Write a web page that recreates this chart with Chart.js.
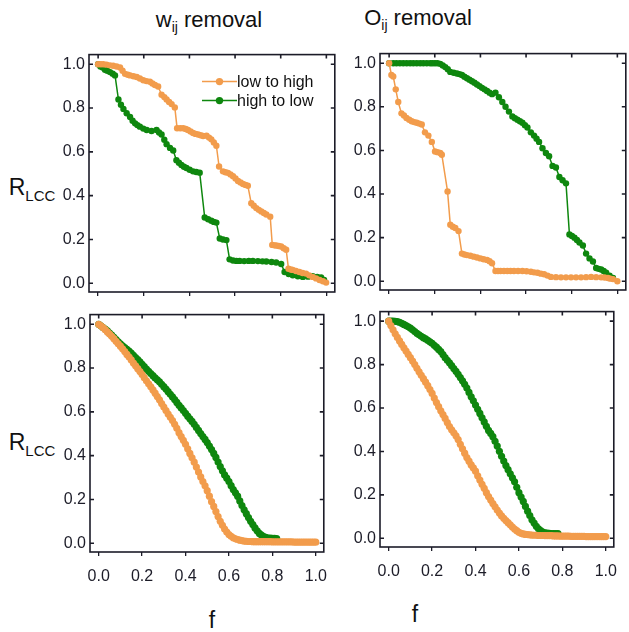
<!DOCTYPE html>
<html>
<head>
<meta charset="utf-8">
<script src="https://cdn.jsdelivr.net/npm/chart.js@4.4.1/dist/chart.umd.min.js"></script>
<style>
  html, body { margin: 0; padding: 0; background: #fff; }
  #fig { position: relative; width: 629px; height: 632px; background: #fff; overflow: hidden;
         font-family: "Liberation Sans", Arial, sans-serif; color: #111; }
  #fig canvas { position: absolute; }
  .lbl { position: absolute; white-space: nowrap; line-height: 1; transform: translate(-50%, -50%); }
  .ttl { font-size: 22px; }
  .ttl sub { font-size: 14px; vertical-align: -5px; }
  .ylab { font-size: 23px; }
  .ylab sub { font-size: 15px; vertical-align: -6px; }
  .xlab { font-size: 23px; }
</style>
</head>
<body>
<div id="fig">
  <div class="lbl ttl" style="left:209px; top:21px;">w<sub>ij</sub> removal</div>
  <div class="lbl ttl" style="left:418px; top:19px;">O<sub>ij</sub> removal</div>
  <div class="lbl ylab" style="left:32px; top:189px;">R<sub>LCC</sub></div>
  <div class="lbl ylab" style="left:32px; top:444px;">R<sub>LCC</sub></div>
  <div class="lbl xlab" style="left:212px; top:620px;">f</div>
  <div class="lbl xlab" style="left:415px; top:614px;">f</div>
</div>
<script>
// Tick values shared by every panel
const fTicks = [0.0, 0.2, 0.4, 0.6, 0.8, 1.0];
const rTicks = [0.0, 0.2, 0.4, 0.6, 0.8, 1.0];
const seriesNames = ['low to high', 'high to low'];

// Removed fraction f used by the ensemble curves (bottom row)
const fGrid = [
  0.00, 0.01, 0.02, 0.03, 0.04, 0.05, 0.06, 0.07, 0.08, 0.09,
  0.10, 0.11, 0.12, 0.13, 0.14, 0.15, 0.16, 0.17, 0.18, 0.19,
  0.20, 0.21, 0.22, 0.23, 0.24, 0.25, 0.26, 0.27, 0.28, 0.29,
  0.30, 0.31, 0.32, 0.33, 0.34, 0.35, 0.36, 0.37, 0.38, 0.39,
  0.40, 0.41, 0.42, 0.43, 0.44, 0.45, 0.46, 0.47, 0.48, 0.49,
  0.50, 0.51, 0.52, 0.53, 0.54, 0.55, 0.56, 0.57, 0.58, 0.59,
  0.60, 0.61, 0.62, 0.63, 0.64, 0.65, 0.66, 0.67, 0.68, 0.69,
  0.70, 0.71, 0.72, 0.73, 0.74, 0.75, 0.76, 0.77, 0.78, 0.79,
  0.80, 0.81, 0.82, 0.83, 0.84, 0.85, 0.86, 0.87, 0.88, 0.89,
  0.90, 0.91, 0.92, 0.93, 0.94, 0.95, 0.96, 0.97, 0.98, 0.99,
  1.00
];

// w_ij removal, single network: [f, R_LCC]
const wTopLowHigh = [
  [0,1.0],[0.012,1.0],[0.023,1.0],[0.037,0.998],[0.052,0.995],[0.066,0.993],[0.081,0.99],[0.096,0.985],
  [0.107,0.97],[0.118,0.956],[0.13,0.952],[0.14,0.949],[0.155,0.945],[0.169,0.942],[0.183,0.935],
  [0.198,0.927],[0.212,0.923],[0.227,0.92],[0.238,0.912],[0.249,0.905],[0.263,0.898],[0.278,0.861],
  [0.29,0.85],[0.30,0.839],[0.311,0.828],[0.322,0.818],[0.336,0.803],[0.346,0.708],[0.36,0.708],
  [0.373,0.708],[0.384,0.704],[0.394,0.70],[0.405,0.693],[0.416,0.686],[0.427,0.682],[0.438,0.679],
  [0.449,0.676],[0.46,0.672],[0.475,0.674],[0.486,0.665],[0.496,0.657],[0.507,0.643],[0.518,0.628],
  [0.53,0.533],[0.547,0.511],[0.558,0.507],[0.569,0.504],[0.58,0.497],[0.591,0.489],[0.602,0.478],
  [0.613,0.467],[0.624,0.46],[0.635,0.453],[0.646,0.449],[0.656,0.445],[0.671,0.365],[0.682,0.354],
  [0.693,0.343],[0.704,0.335],[0.715,0.328],[0.726,0.321],[0.737,0.314],[0.754,0.304],[0.763,0.175],
  [0.772,0.173],[0.78,0.172],[0.791,0.17],[0.802,0.168],[0.813,0.16],[0.824,0.153],[0.834,0.066],
  [0.844,0.063],[0.853,0.061],[0.867,0.056],[0.882,0.051],[0.896,0.047],[0.911,0.044],[0.925,0.036],
  [0.94,0.029],[0.955,0.022],[0.97,0.015],[0.985,0.009],[0.999,0.003]
];
const wTopHighLow = [
  [0,1.0],[0.01,0.99],[0.02,0.985],[0.03,0.975],[0.04,0.97],[0.052,0.964],[0.064,0.957],[0.074,0.949],
  [0.089,0.839],[0.1,0.815],[0.111,0.796],[0.125,0.776],[0.14,0.759],[0.151,0.742],[0.162,0.73],
  [0.172,0.722],[0.183,0.715],[0.198,0.706],[0.213,0.70],[0.234,0.695],[0.256,0.70],[0.267,0.688],
  [0.278,0.679],[0.29,0.655],[0.30,0.635],[0.315,0.618],[0.329,0.606],[0.343,0.562],[0.354,0.55],
  [0.365,0.54],[0.376,0.532],[0.387,0.526],[0.401,0.518],[0.416,0.511],[0.43,0.508],[0.445,0.505],
  [0.467,0.30],[0.482,0.292],[0.496,0.285],[0.507,0.28],[0.518,0.277],[0.533,0.204],[0.547,0.2],
  [0.562,0.197],[0.576,0.109],[0.591,0.104],[0.606,0.102],[0.62,0.102],[0.64,0.101],[0.66,0.102],
  [0.678,0.102],[0.70,0.101],[0.72,0.10],[0.737,0.099],[0.76,0.097],[0.78,0.095],[0.802,0.088],
  [0.817,0.051],[0.835,0.042],[0.853,0.036],[0.875,0.032],[0.897,0.029],[0.92,0.03],[0.94,0.032],
  [0.96,0.029],[0.977,0.026],[0.99,0.015]
];

// O_ij removal, single network: [f, R_LCC]
const oTopLowHigh = [
  [0,1.0],[0.01,0.946],[0.018,0.939],[0.029,0.88],[0.04,0.822],[0.054,0.77],[0.065,0.76],[0.076,0.749],
  [0.088,0.741],[0.099,0.734],[0.11,0.73],[0.121,0.727],[0.132,0.723],[0.143,0.719],[0.157,0.683],
  [0.172,0.668],[0.187,0.639],[0.201,0.595],[0.212,0.592],[0.224,0.588],[0.231,0.58],[0.256,0.412],
  [0.268,0.259],[0.279,0.25],[0.29,0.244],[0.304,0.23],[0.319,0.127],[0.33,0.123],[0.341,0.12],
  [0.356,0.117],[0.371,0.113],[0.385,0.109],[0.40,0.105],[0.414,0.101],[0.429,0.098],[0.44,0.092],
  [0.451,0.083],[0.466,0.047],[0.477,0.047],[0.488,0.047],[0.503,0.047],[0.518,0.047],[0.532,0.047],
  [0.547,0.047],[0.565,0.047],[0.584,0.047],[0.602,0.046],[0.621,0.044],[0.635,0.041],[0.65,0.039],
  [0.665,0.035],[0.679,0.032],[0.694,0.026],[0.709,0.02],[0.731,0.019],[0.753,0.018],[0.775,0.018],
  [0.797,0.018],[0.819,0.018],[0.841,0.018],[0.863,0.019],[0.885,0.02],[0.907,0.019],[0.929,0.018],
  [0.944,0.017],[0.959,0.015],[0.97,0.012],[0.981,0.01],[1.0,0.0]
];
const oTopHighLow = [
  [0,1.0],[0.018,1.0],[0.032,1.0],[0.047,1.0],[0.062,1.0],[0.077,1.0],[0.092,1.0],[0.106,1.0],
  [0.121,1.0],[0.136,1.0],[0.15,1.0],[0.165,1.0],[0.18,1.0],[0.19,1.0],[0.201,1.0],[0.212,1.0],
  [0.224,0.997],[0.235,0.99],[0.246,0.982],[0.257,0.972],[0.268,0.96],[0.283,0.956],[0.297,0.953],
  [0.308,0.95],[0.319,0.946],[0.33,0.938],[0.341,0.931],[0.352,0.924],[0.363,0.917],[0.374,0.91],
  [0.385,0.902],[0.396,0.895],[0.407,0.887],[0.418,0.88],[0.429,0.873],[0.44,0.865],[0.451,0.858],
  [0.466,0.865],[0.481,0.844],[0.496,0.822],[0.51,0.80],[0.525,0.778],[0.54,0.756],[0.551,0.748],
  [0.562,0.741],[0.573,0.734],[0.584,0.727],[0.595,0.716],[0.606,0.705],[0.621,0.683],[0.635,0.668],
  [0.646,0.654],[0.657,0.639],[0.672,0.61],[0.687,0.588],[0.701,0.573],[0.716,0.529],[0.731,0.522],
  [0.746,0.478],[0.76,0.463],[0.775,0.449],[0.79,0.215],[0.801,0.208],[0.812,0.20],[0.823,0.189],
  [0.834,0.178],[0.849,0.164],[0.863,0.127],[0.878,0.105],[0.893,0.091],[0.907,0.061],[0.918,0.057],
  [0.929,0.054],[0.94,0.047],[0.951,0.039],[0.966,0.025],[0.981,0.015]
];

// w_ij removal, ensemble: R_LCC at each fGrid value
const wBotLowHigh = [
  1.000, 0.993, 0.985, 0.975, 0.965, 0.955, 0.945, 0.934, 0.922, 0.911,
  0.900, 0.888, 0.875, 0.862, 0.850, 0.837, 0.823, 0.810, 0.797, 0.784,
  0.770, 0.756, 0.742, 0.728, 0.714, 0.700, 0.685, 0.670, 0.655, 0.638,
  0.622, 0.606, 0.590, 0.575, 0.560, 0.543, 0.525, 0.505, 0.487, 0.470,
  0.452, 0.431, 0.410, 0.390, 0.370, 0.348, 0.325, 0.303, 0.282, 0.262,
  0.240, 0.215, 0.190, 0.168, 0.145, 0.122, 0.100, 0.082, 0.065, 0.051,
  0.040, 0.032, 0.025, 0.020, 0.017, 0.014, 0.012, 0.010, 0.009, 0.008,
  0.008, 0.007, 0.007, 0.007, 0.007, 0.007, 0.007, 0.007, 0.007, 0.007,
  0.006, 0.006, 0.006, 0.006, 0.006, 0.006, 0.006, 0.006, 0.006, 0.006,
  0.005, 0.005, 0.005, 0.005, 0.005, 0.005, 0.005, 0.005, 0.005, 0.005,
  0.005
];
const wBotHighLow = [
  1.000, 0.993, 0.985, 0.978, 0.970, 0.960, 0.950, 0.940, 0.930, 0.920,
  0.910, 0.901, 0.893, 0.885, 0.877, 0.868, 0.858, 0.848, 0.838, 0.828,
  0.817, 0.806, 0.795, 0.785, 0.775, 0.765, 0.755, 0.746, 0.737, 0.726,
  0.715, 0.704, 0.692, 0.680, 0.668, 0.656, 0.643, 0.630, 0.618, 0.606,
  0.593, 0.580, 0.568, 0.556, 0.543, 0.529, 0.515, 0.501, 0.487, 0.474,
  0.460, 0.444, 0.428, 0.410, 0.392, 0.371, 0.350, 0.331, 0.312, 0.297,
  0.282, 0.263, 0.245, 0.230, 0.215, 0.193, 0.172, 0.153, 0.135, 0.117,
  0.100, 0.085, 0.070, 0.057, 0.045, 0.037, 0.030, 0.027, 0.024, 0.023,
  0.022, 0.022, 0.021
];

// O_ij removal, ensemble: R_LCC at each fGrid value
const oBotLowHigh = [
  1.000, 0.980, 0.960, 0.942, 0.925, 0.909, 0.893, 0.877, 0.862, 0.847,
  0.832, 0.816, 0.800, 0.783, 0.767, 0.751, 0.735, 0.719, 0.703, 0.685,
  0.667, 0.646, 0.625, 0.606, 0.587, 0.570, 0.552, 0.533, 0.515, 0.500,
  0.486, 0.472, 0.455, 0.433, 0.412, 0.392, 0.372, 0.355, 0.338, 0.324,
  0.309, 0.288, 0.268, 0.249, 0.230, 0.210, 0.192, 0.176, 0.160, 0.145,
  0.130, 0.116, 0.103, 0.092, 0.082, 0.072, 0.062, 0.052, 0.043, 0.035,
  0.028, 0.023, 0.020, 0.018, 0.017, 0.016, 0.015, 0.014, 0.014, 0.013,
  0.013, 0.013, 0.012, 0.012, 0.012, 0.012, 0.011, 0.011, 0.011, 0.010,
  0.010, 0.010, 0.010, 0.010, 0.009, 0.009, 0.009, 0.009, 0.009, 0.009,
  0.009, 0.008, 0.008, 0.008, 0.008, 0.008, 0.008, 0.008, 0.008, 0.008,
  0.008
];
const oBotHighLow = [
  1.000, 1.000, 1.000, 0.999, 0.998, 0.995, 0.990, 0.985, 0.980, 0.974,
  0.968, 0.960, 0.952, 0.944, 0.937, 0.930, 0.924, 0.918, 0.912, 0.905,
  0.898, 0.889, 0.880, 0.870, 0.860, 0.846, 0.832, 0.820, 0.808, 0.795,
  0.782, 0.769, 0.755, 0.740, 0.725, 0.709, 0.692, 0.672, 0.652, 0.633,
  0.614, 0.594, 0.575, 0.555, 0.536, 0.516, 0.497, 0.483, 0.468, 0.447,
  0.425, 0.401, 0.378, 0.356, 0.335, 0.316, 0.297, 0.279, 0.260, 0.235,
  0.210, 0.190, 0.170, 0.147, 0.125, 0.105, 0.085, 0.070, 0.055, 0.044,
  0.035, 0.029, 0.025, 0.024, 0.023, 0.022, 0.022, 0.022, 0.022
];

const ORANGE = '#F29C4C';
const GREEN = '#0E870E';
const INK = '#1c1c28';
const FONT = '"Liberation Sans", Arial, sans-serif';

// Box frame with inward ticks on the left, right and top edges
const framePlugin = {
  id: 'frame',
  afterDatasetsDraw(chart) {
    const { ctx, chartArea: a, scales: { x, y } } = chart;
    const t = 4;
    ctx.save();
    ctx.strokeStyle = INK;
    ctx.lineWidth = 1.6;
    ctx.strokeRect(a.left, a.top, a.right - a.left, a.bottom - a.top);
    ctx.beginPath();
    x.ticks.forEach(tk => {
      const px = x.getPixelForValue(tk.value);
      ctx.moveTo(px, a.top); ctx.lineTo(px, a.top + t);
    });
    y.ticks.forEach(tk => {
      const py = y.getPixelForValue(tk.value);
      ctx.moveTo(a.left, py); ctx.lineTo(a.left + t, py);
      ctx.moveTo(a.right, py); ctx.lineTo(a.right - t, py);
    });
    ctx.stroke();
    ctx.restore();
  }
};

// Legend entries drawn as a line sample with its marker
const lineLegendPlugin = {
  id: 'lineLegend',
  afterDraw(chart, args, opts) {
    if (!opts.show) return;
    const { ctx, chartArea: a } = chart;
    ctx.save();
    chart.data.datasets.forEach((ds, i) => {
      const yy = a.top + opts.top + i * opts.gap;
      const x0 = a.left + opts.left;
      ctx.strokeStyle = ds.borderColor;
      ctx.lineWidth = ds.borderWidth;
      ctx.beginPath();
      ctx.moveTo(x0, yy); ctx.lineTo(x0 + opts.len, yy);
      ctx.stroke();
      ctx.fillStyle = ds.pointBackgroundColor;
      ctx.beginPath();
      ctx.arc(x0 + opts.len / 2, yy, ds.pointRadius + 0.5, 0, Math.PI * 2);
      ctx.fill();
      ctx.fillStyle = '#111';
      ctx.font = opts.fontSize + 'px ' + FONT;
      ctx.textAlign = 'left';
      ctx.textBaseline = 'middle';
      ctx.fillText(ds.label, x0 + opts.len, yy + 1);
    });
    ctx.restore();
  }
};

const Y_AXIS_W = 45, PAD_T = 4, PAD_R = 3, X_AXIS_H = 40;

const pairsToPoints = pts => pts.map(p => ({ x: p[0], y: p[1] }));
const gridToPoints = vals => vals.map((v, i) => ({ x: fGrid[i], y: v }));

function makeSeries(label, points, color, radius, width) {
  return {
    label,
    data: points,
    borderColor: color,
    backgroundColor: color,
    pointBackgroundColor: color,
    pointBorderColor: color,
    pointRadius: radius,
    pointBorderWidth: 0,
    pointHoverRadius: radius,
    borderWidth: width,
    tension: 0,
    fill: false
  };
}

function drawPanel(area, lowHigh, highLow, opts) {
  const [l, t, r, b] = area;
  const canvas = document.createElement('canvas');
  const w = (r - l) + Y_AXIS_W + PAD_R;
  const h = (b - t) + PAD_T + X_AXIS_H;
  canvas.width = w; canvas.height = h;
  canvas.style.left = (l - Y_AXIS_W) + 'px';
  canvas.style.top = (t - PAD_T) + 'px';
  canvas.style.width = w + 'px'; canvas.style.height = h + 'px';
  document.getElementById('fig').appendChild(canvas);

  new Chart(canvas, {
    type: 'scatter',
    data: {
      datasets: [
        makeSeries(seriesNames[0], lowHigh, ORANGE, opts.radius, opts.lineWidth),
        makeSeries(seriesNames[1], highLow, GREEN, opts.radius, opts.lineWidth)
      ]
    },
    options: {
      responsive: false,
      animation: false,
      devicePixelRatio: 1,
      showLine: true,
      layout: { padding: { top: PAD_T, right: PAD_R, left: 0, bottom: 0 } },
      plugins: {
        legend: { display: false },
        tooltip: { enabled: false },
        lineLegend: opts.legend || { show: false }
      },
      scales: {
        x: {
          type: 'linear', min: -0.04, max: 1.037,
          afterBuildTicks: s => { s.ticks = fTicks.map(v => ({ value: v })); },
          afterFit: s => { s.height = X_AXIS_H; },
          grid: { display: true, drawOnChartArea: false, drawTicks: true, tickLength: 4, color: INK, lineWidth: 1.3 },
          border: { display: false },
          ticks: {
            display: opts.showX, padding: 11, color: INK, maxRotation: 0,
            font: { family: FONT, size: 16 },
            callback: v => Number(v).toFixed(1)
          }
        },
        y: {
          type: 'linear', min: -0.04, max: 1.044,
          afterBuildTicks: s => { s.ticks = rTicks.map(v => ({ value: v })); },
          afterFit: s => { s.width = Y_AXIS_W; },
          grid: { display: false, drawTicks: false },
          border: { display: false },
          ticks: {
            padding: 4, color: INK,
            font: { family: FONT, size: 16 },
            callback: v => Number(v).toFixed(1)
          }
        }
      }
    },
    plugins: [framePlugin, lineLegendPlugin]
  });
}

drawPanel([89, 45, 335, 292], pairsToPoints(wTopLowHigh), pairsToPoints(wTopHighLow), {
  showX: false, radius: 3.2, lineWidth: 1.5,
  legend: { show: true, left: 113, top: 27, gap: 19, len: 35, fontSize: 16 }
});
drawPanel([380, 44, 626, 290], pairsToPoints(oTopLowHigh), pairsToPoints(oTopHighLow),
  { showX: false, radius: 3.2, lineWidth: 1.5 });
drawPanel([90, 305, 335, 552], gridToPoints(wBotLowHigh), gridToPoints(wBotHighLow),
  { showX: true, radius: 3.6, lineWidth: 1.5 });
drawPanel([380, 302, 625, 547], gridToPoints(oBotLowHigh), gridToPoints(oBotHighLow),
  { showX: true, radius: 3.6, lineWidth: 1.5 });
</script>
</body>
</html>
